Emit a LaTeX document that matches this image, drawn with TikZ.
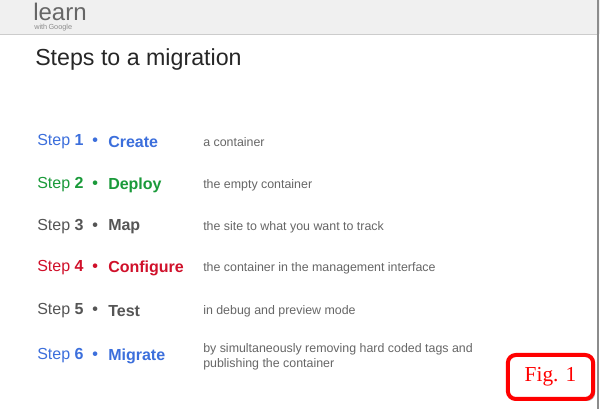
\documentclass[tikz,border=0pt]{standalone}
\usepackage{fontspec}
\setmainfont{Liberation Sans}
\newfontfamily\figserif{Liberation Serif}
\usetikzlibrary{shadows}
\definecolor{cblue}{HTML}{3C6FDC}
\definecolor{cgreen}{HTML}{1A9A3A}
\definecolor{cgray}{HTML}{555555}
\definecolor{cred}{HTML}{D0102A}
\definecolor{desc}{HTML}{666666}
\tikzset{
 stepl/.style={anchor=west,font=\fontsize{12}{14}\selectfont,inner sep=0pt},
 stepw/.style={anchor=west,font=\fontsize{12}{14}\selectfont\bfseries,inner sep=0pt},
 descr/.style={anchor=west,font=\fontsize{9.3}{11.5}\selectfont,text=desc,inner sep=0pt,align=left},
}
\begin{document}
\begin{tikzpicture}[x=0.75pt,y=-0.75pt]
\useasboundingbox (0,0) rectangle (600,409);
\fill[white] (0,0) rectangle (600,409);
\fill[black!6] (0,0) rectangle (600,34);
\draw[black!20] (0,34.5) -- (597,34.5);
\draw[black!45,line width=1.5pt] (598,0) -- (598,409);
\node[anchor=west,inner sep=0pt,text=black!60,font=\fontsize{18}{18}\selectfont] (logo) at (33,12) {learn};
\node[anchor=west,inner sep=0pt,text=black!45,font=\fontsize{5.5}{6}\selectfont] (with) at (34,28) {with\,Google};
\node[anchor=west,inner sep=0pt,text=black!85,font=\fontsize{17.4}{19}\selectfont] (title) at (35,60) {Steps to a migration};
\foreach \i/\c/\w/\d/\y in {1/cblue/Create/a container/142,
  2/cgreen/Deploy/the empty container/185,
  3/cgray/Map/the site to what you want to track/227,
  4/cred/Configure/the container in the management interface/268,
  5/cgray/Test/in debug and preview mode/311}{
  \node[stepl,text=\c] (s\i) at (37,\y) {Step \textbf{\i}\ \ \textbf{•}};
  \node[stepw,text=\c] (w\i) at (108,\y) {\w};
  \node[descr] (d\i) at (203,\y) {\d};
}
\node[stepl,text=cblue] (s6) at (37,356) {Step \textbf{6}\ \ \textbf{•}};
\node[stepw,text=cblue] (w6) at (108,356) {Migrate};
\node[descr] (d6) at (203,356.5) {by simultaneously removing hard coded tags and\\publishing the container};
\node[draw=red,line width=3pt,rounded corners=6pt,fill=white,
  drop shadow={shadow xshift=1.5pt,shadow yshift=-1.5pt,opacity=0.6},
  text=red,font=\figserif\fontsize{16}{17}\selectfont,
  minimum width=64pt,minimum height=33pt] (fig) at (550.5,377) {Fig. 1};
\end{tikzpicture}
\end{document}
